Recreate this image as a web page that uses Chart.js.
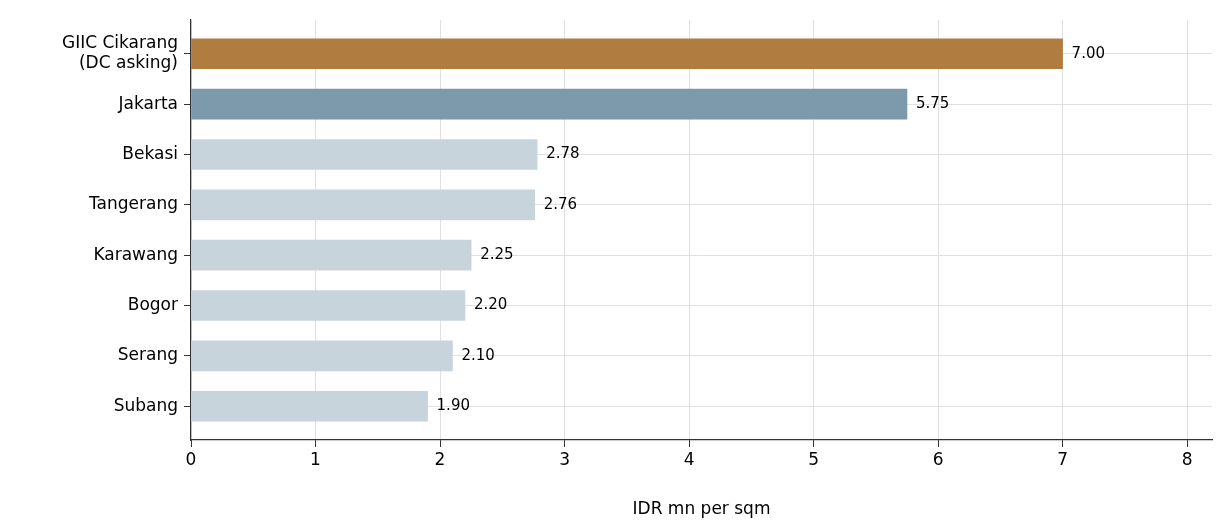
<!DOCTYPE html>
<html><head><meta charset="utf-8">
<script src="https://cdn.jsdelivr.net/npm/chart.js@4"></script>
<style>html,body{margin:0;padding:0;background:#fff}#w{width:1232px;height:532px}</style>
</head><body><div id="w"><canvas id="c"></canvas></div>
<script>
const categories = [['GIIC Cikarang','(DC asking)'],'Jakarta','Bekasi','Tangerang','Karawang','Bogor','Serang','Subang'];
const values = [7.00,5.75,2.78,2.76,2.25,2.20,2.10,1.90];
const colors = ['#B07C3F','#7D9AAC','#C7D4DC','#C7D4DC','#C7D4DC','#C7D4DC','#C7D4DC','#C7D4DC'];
const xTicks = [0,1,2,3,4,5,6,7,8];
const F = "'DejaVu Sans', sans-serif";
Chart.defaults.font.family = F;
const labelPlugin = {id:'lbl',afterDatasetsDraw(ch){const ctx=ch.ctx;const m=ch.getDatasetMeta(0);ctx.save();ctx.font="15px 'DejaVu Sans'";ctx.fillStyle='#000';ctx.textBaseline='middle';m.data.forEach((b,i)=>{ctx.fillText(values[i].toFixed(2),b.x+9,b.y);});ctx.restore();}};
new Chart(document.getElementById('c'),{type:'bar',
data:{datasets:[{data:values.map((v,i)=>({x:v,y:i})),backgroundColor:colors,barThickness:30,borderWidth:0}]},
options:{indexAxis:'y',responsive:true,maintainAspectRatio:false,animation:false,
layout:{padding:{top:20,right:20,left:0,bottom:12}},
plugins:{legend:{display:false},tooltip:{enabled:false}},
scales:{
x:{type:'linear',min:0,max:8.2,afterBuildTicks(s){s.ticks=xTicks.map(v=>({value:v}));},afterFit(s){s.height=80;},
 border:{color:'#333',width:1.2},grid:{color:'#e0e0e0',tickColor:'#333',tickLength:7,drawTicks:true},
 ticks:{color:'#000',font:{family:F,size:17},padding:3},
 title:{display:true,text:'IDR mn per sqm',color:'#000',font:{family:F,size:17},padding:{top:2,bottom:0}}},
y:{type:'linear',reverse:true,offset:false,min:-0.67,max:7.67,afterBuildTicks(s){s.ticks=values.map((v,i)=>({value:i}));},afterFit(s){s.width=191;},
 border:{color:'#333',width:1.2},grid:{color:'#e0e0e0',tickColor:'#333',tickLength:7,offset:false},
 ticks:{color:'#000',font:{family:F,size:17},padding:6,callback:(v)=>categories[v]}}
}},plugins:[labelPlugin]});
</script></body></html>
